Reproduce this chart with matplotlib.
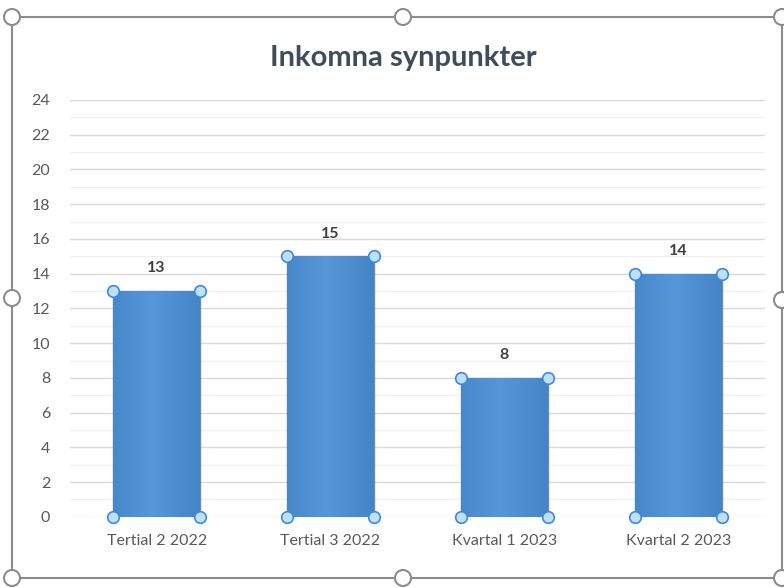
import numpy as np
import matplotlib.pyplot as plt
from matplotlib.patches import Rectangle, Circle
from matplotlib.colors import LinearSegmentedColormap

categories = ["Tertial 2 2022", "Tertial 3 2022", "Kvartal 1 2023", "Kvartal 2 2023"]
values = [13, 15, 8, 14]
yticks = list(range(0, 25, 2))
title = "Inkomna synpunkter"

plt.rcParams['font.family'] = ['Lato', 'DejaVu Sans']

fig = plt.figure(figsize=(7.84, 5.88), dpi=100)
ax = fig.add_axes([0.089, 0.121, 0.887, 0.709])

x = np.arange(len(categories))
width = 0.5
bars = ax.bar(x, values, width=width, color="#4a8fd2", edgecolor="#7a8a9a",
              linewidth=1.0, zorder=3)

# soft horizontal gradient on each bar
grad = np.linspace(0, 1, 64).reshape(1, -1)
grad = 1 - np.abs(grad - 0.45) * 2
cmap = LinearSegmentedColormap.from_list("g", ["#4385c6", "#5597d8"])
for b in bars:
    x0, y0 = b.get_x(), b.get_y()
    w, h = b.get_width(), b.get_height()
    im = ax.imshow(grad, cmap=cmap, aspect="auto",
                   extent=[x0, x0 + w, y0, y0 + h], zorder=3.5)
    im.set_clip_path(b)

# selection handles at bar corners
for xi, v in zip(x, values):
    cx = [xi - width / 2, xi + width / 2, xi - width / 2, xi + width / 2]
    cy = [0, 0, v, v]
    ax.scatter(cx, cy, s=70, facecolor="#bfe0fb", edgecolor="#3d8ad8",
               linewidth=1.2, zorder=5, clip_on=False)
    ax.text(xi, v + 0.9, str(v), ha="center", va="bottom", fontsize=11.5,
            fontweight="bold", color="#404040", zorder=6)

ax.set_xlim(-0.5, len(categories) - 0.5)
ax.set_ylim(0, 24)
ax.set_yticks(yticks)
ax.set_yticks(range(1, 24, 2), minor=True)
ax.tick_params(axis="y", which="both", length=0, labelsize=11.5, colors="#595959", pad=14)
ax.tick_params(axis="x", length=0, labelsize=11.5, colors="#595959", pad=12)
ax.set_xticks(x)
ax.set_xticklabels(categories)
ax.grid(axis="y", which="major", color="#d9d9d9", linewidth=1.0, zorder=0)
ax.grid(axis="y", which="minor", color="#efefef", linewidth=0.8, zorder=0)
ax.set_axisbelow(True)
for s in ax.spines.values():
    s.set_visible(False)

fig.text(0.515, 0.902, title, ha="center", va="center", fontsize=21,
         fontweight="bold", color="#3f4d5b")

# chart selection frame with handles
W, H = 784, 588
def fx(px):
    return px / W
def fy(py):
    return 1 - py / H
frame = Rectangle((fx(12), fy(578)), fx(782) - fx(12), fy(17) - fy(578),
                  transform=fig.transFigure, fill=False, edgecolor="#8c8c8c",
                  linewidth=1.5, zorder=10)
fig.patches.append(frame)
for px, py in [(12, 17), (403, 17), (782, 17), (12, 298), (782, 300),
               (12, 578), (403, 578), (782, 578)]:
    c = Circle((px, H - py), 8, transform=None, facecolor="white",
               edgecolor="#8c8c8c", linewidth=1.5, zorder=11)
    fig.patches.append(c)

fig.savefig("out.png", dpi=100)
